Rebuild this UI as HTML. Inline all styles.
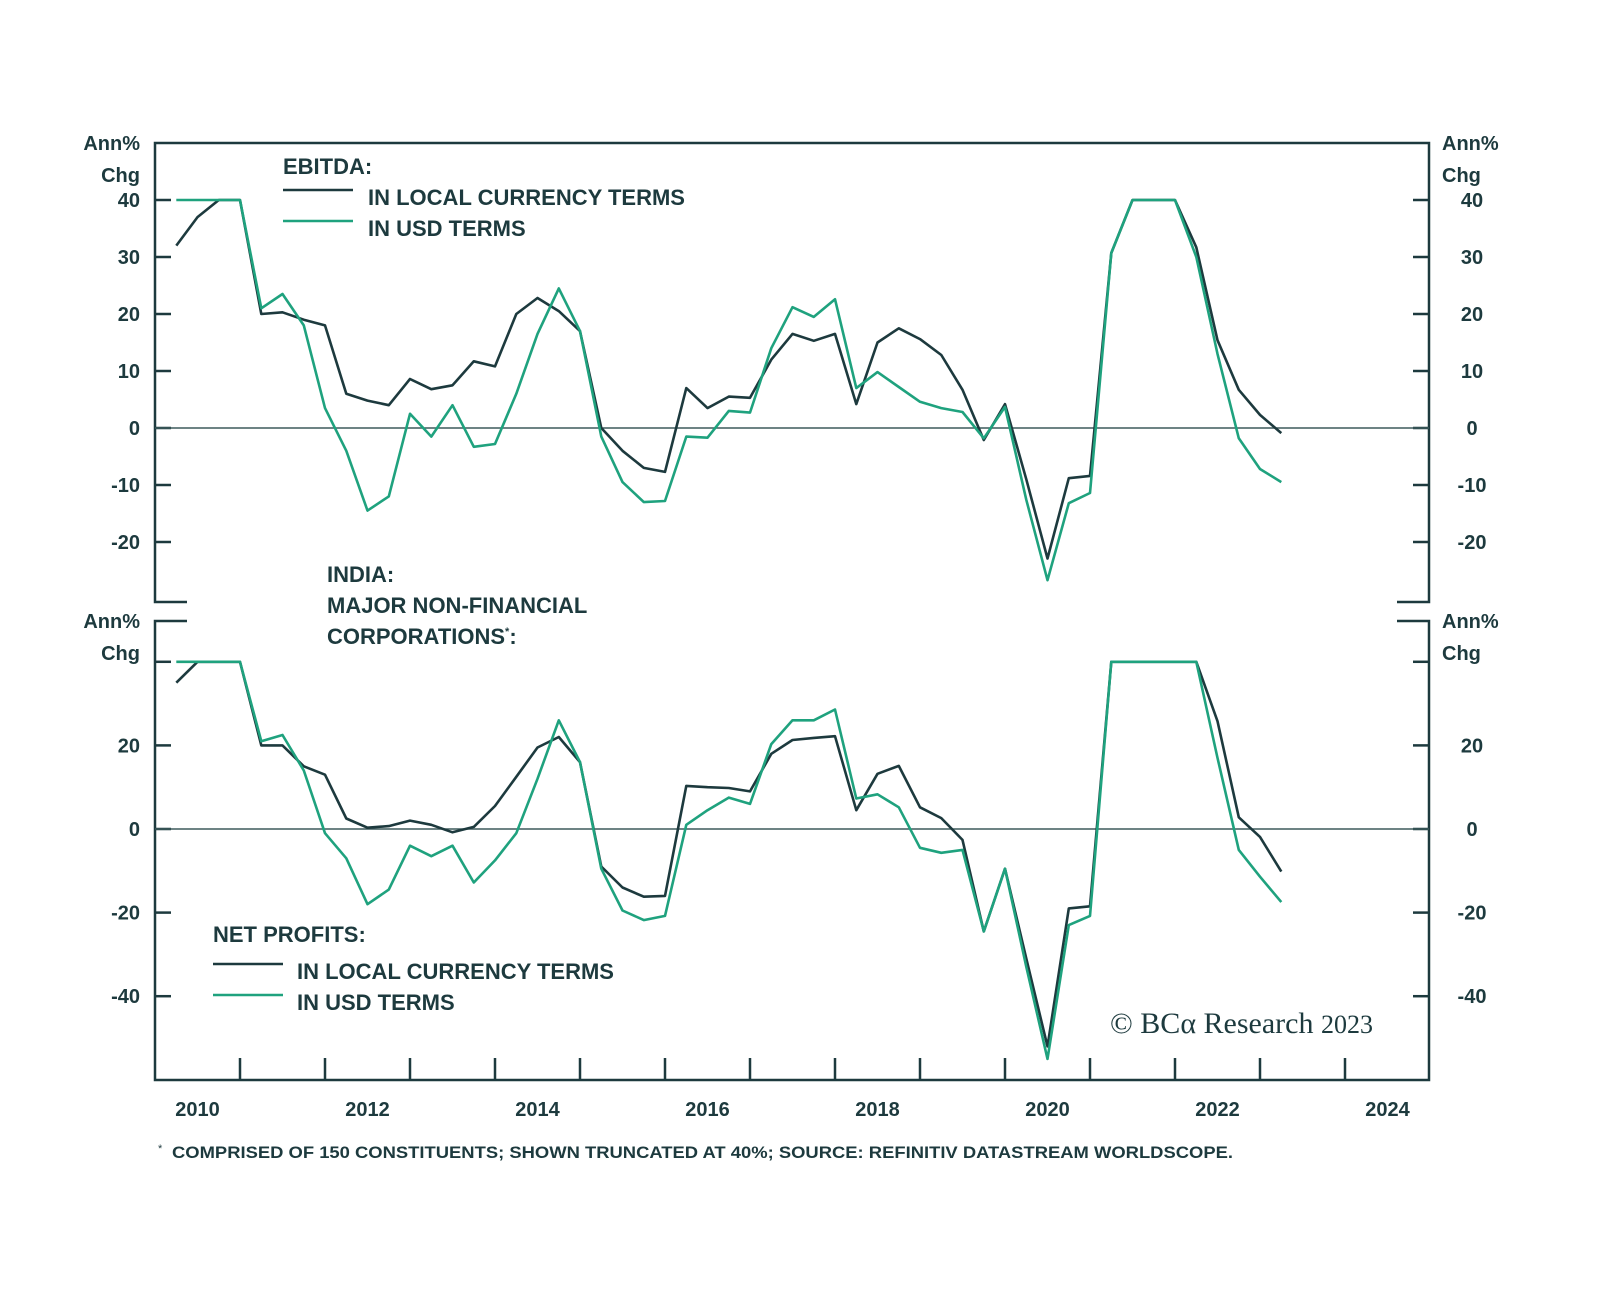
<!DOCTYPE html>
<html><head><meta charset="utf-8"><style>
html,body{margin:0;padding:0;background:#fff;}
svg{display:block;font-family:"Liberation Sans",sans-serif;}
.t{fill:#1d3a3e;font-weight:bold;font-size:20px;}
.lg{font-size:22px;}
</style></head><body>
<svg id="chart" width="1600" height="1300" viewBox="0 0 1600 1300">
<g id="frame" stroke="#1d3a3e" stroke-width="2.5" fill="none"></g>
<g id="ticks" stroke="#1d3a3e" stroke-width="2.5"></g>
<g id="labels"></g>
<g id="series"></g>
<g>
<text class="t lg" x="283" y="174">EBITDA:</text>
<line x1="283" y1="190" x2="353" y2="190" stroke="#1d3a3e" stroke-width="2.5"/>
<text class="t lg" x="368" y="205">IN LOCAL CURRENCY TERMS</text>
<line x1="283" y1="221" x2="353" y2="221" stroke="#1fa27e" stroke-width="2.5"/>
<text class="t lg" x="368" y="236">IN USD TERMS</text>
</g>
<g>
<text class="t lg" x="327" y="582">INDIA:</text>
<text class="t lg" x="327" y="613">MAJOR NON-FINANCIAL</text>
<text class="t lg" x="327" y="644">CORPORATIONS<tspan font-size="11" dy="-9">*</tspan><tspan dy="9">:</tspan></text>
</g>
<g>
<text class="t lg" x="213" y="942">NET PROFITS:</text>
<line x1="213" y1="964" x2="283" y2="964" stroke="#1d3a3e" stroke-width="2.5"/>
<text class="t lg" x="297" y="979">IN LOCAL CURRENCY TERMS</text>
<line x1="213" y1="995" x2="283" y2="995" stroke="#1fa27e" stroke-width="2.5"/>
<text class="t lg" x="297" y="1010">IN USD TERMS</text>
</g>
<text x="1110" y="1033" font-family="'Liberation Serif',serif" font-size="30" fill="#1d3a3e">© BCα Research <tspan font-size="26">2023</tspan></text>
<text x="158" y="1152" font-size="11" fill="#1d3a3e">*</text>
<text x="172" y="1158" font-size="17" font-weight="bold" fill="#1d3a3e" textLength="1061" lengthAdjust="spacingAndGlyphs">COMPRISED OF 150 CONSTITUENTS; SHOWN TRUNCATED AT 40%; SOURCE: REFINITIV DATASTREAM WORLDSCOPE.</text>
</svg>
<script>
const topLocal=[32,37,40,40,20,20.3,19,18,6,4.8,4,8.6,6.8,7.5,11.7,10.8,20,22.8,20.5,17,0,-4,-7,-7.7,7,3.5,5.5,5.3,12,16.5,15.3,16.5,4.2,15,17.5,15.6,12.8,6.7,-2.1,4.2,-9,-22.9,-8.8,-8.4,30.7,40,40,40,31.7,15.4,6.7,2.3,-0.9];
const topUsd=[40,40,40,40,21,23.5,18,3.5,-4,-14.5,-12,2.5,-1.5,4,-3.3,-2.8,6,16.5,24.5,17,-1.5,-9.5,-13,-12.8,-1.5,-1.7,3,2.7,14,21.2,19.5,22.6,7,9.8,7.2,4.6,3.5,2.8,-1.8,3.7,-12.6,-26.7,-13.2,-11.4,30.7,40,40,40,30,13,-1.8,-7.2,-9.5];
const botLocal=[35,40,40,40,20,20,15,13,2.5,0.3,0.7,2,1,-0.8,0.5,5.5,12.5,19.5,22,16,-9,-14,-16.2,-16,10.3,10,9.8,9,18,21.3,21.8,22.2,4.5,13.2,15.1,5.2,2.6,-2.6,-24.5,-9.5,-31,-52,-19,-18.5,40,40,40,40,40,25.8,2.8,-1.9,-10.2];
const botUsd=[40,40,40,40,21,22.5,14,-1,-7,-18,-14.5,-4,-6.5,-4,-12.8,-7.5,-1,12,26,16,-9.5,-19.5,-21.8,-20.8,1,4.5,7.5,6,20.3,26,26,28.6,7.3,8.3,5.2,-4.5,-5.7,-5,-24.5,-9.5,-33,-55,-23,-20.8,40,40,40,40,40,17,-5,-11.4,-17.5];
const startYear=2010.25;
const topTicks=[40,30,20,10,0,-10,-20];
const botTicks=[40,20,0,-20,-40];
const botTickLabels=["","20","0","-20","-40"];
const yearLabels=["2010","2012","2014","2016","2018","2020","2022","2024"];

const NS="http://www.w3.org/2000/svg";
const L=155,R=1429;
const xOf=t=>L+(t-2010)*85;
const yTop=v=>428-v*5.7;
const yBot=v=>829-v*4.18;
function mk(tag,attrs,parent){const e=document.createElementNS(NS,tag);for(const k in attrs)e.setAttribute(k,attrs[k]);parent.appendChild(e);return e;}
const frame=document.getElementById('frame');
const fp=mk('path',{d:`M${L+32},602 H${L} V143 H${R} V602 H${R-32} M${L+32},621 H${L} V1080 H${R} V621 H${R-32}`},frame);


const ticks=document.getElementById('ticks');
const labels=document.getElementById('labels');
function txt(s,x,y,anchor,name){const e=mk('text',{x:x,y:y,'text-anchor':anchor,class:'t'},labels);e.textContent=s;return e;}
topTicks.forEach(v=>{
  const y=yTop(v);
  const a=mk('line',{x1:L,x2:L+16,y1:y,y2:y},ticks);
  
  
  const b=mk('line',{x1:R-16,x2:R,y1:y,y2:y},ticks);
  
  
  txt(String(v),140,y+7,'end','top-left-tick-label');
  txt(String(v),1472,y+7,'middle','top-right-tick-label');
});
botTicks.forEach((v,i)=>{
  const y=yBot(v);
  const a=mk('line',{x1:L,x2:L+16,y1:y,y2:y},ticks);
  
  
  const b=mk('line',{x1:R-16,x2:R,y1:y,y2:y},ticks);
  
  
  if(botTickLabels[i]){txt(botTickLabels[i],140,y+7,'end','bottom-left-tick-label');txt(botTickLabels[i],1472,y+7,'middle','bottom-right-tick-label');}
});
for(let n=1;n<15;n++){
  const x=xOf(2010+n);
  const t=mk('line',{x1:x,x2:x,y1:1058,y2:1080},ticks);
  
  
}
yearLabels.forEach(s=>txt(s,xOf(+s+0.5),1116,'middle','x-tick-label'));
txt('Ann%',140,150,'end','top-left-unit');txt('Chg',140,182,'end','top-left-unit-2');
txt('Ann%',1442,150,'start','top-right-unit');txt('Chg',1442,182,'start','top-right-unit-2');
txt('Ann%',140,628,'end','bottom-left-unit');txt('Chg',140,660,'end','bottom-left-unit-2');
txt('Ann%',1442,628,'start','bottom-right-unit');txt('Chg',1442,660,'start','bottom-right-unit-2');
const series=document.getElementById('series');
[[yTop(0),'top-zero-line'],[yBot(0),'bottom-zero-line']].forEach(([y,n])=>{
  const z=mk('line',{x1:L,x2:R,y1:y,y2:y,stroke:'#3d5a5c','stroke-width':1.5},series);
  
  
});
function line(arr,yf,color,name){
  const d=arr.map((v,k)=>(k?'L':'M')+xOf(startYear+k*0.25).toFixed(1)+','+yf(v).toFixed(1)).join(' ');
  const p=mk('path',{d:d,fill:'none',stroke:color,'stroke-width':2.6,'stroke-linejoin':'round'},series);
  
  
}
line(topLocal,yTop,'#1d3a3e','ebitda-local-line');
line(topUsd,yTop,'#1fa27e','ebitda-usd-line');
line(botLocal,yBot,'#1d3a3e','net-profits-local-line');
line(botUsd,yBot,'#1fa27e','net-profits-usd-line');
</script>
</body></html>
